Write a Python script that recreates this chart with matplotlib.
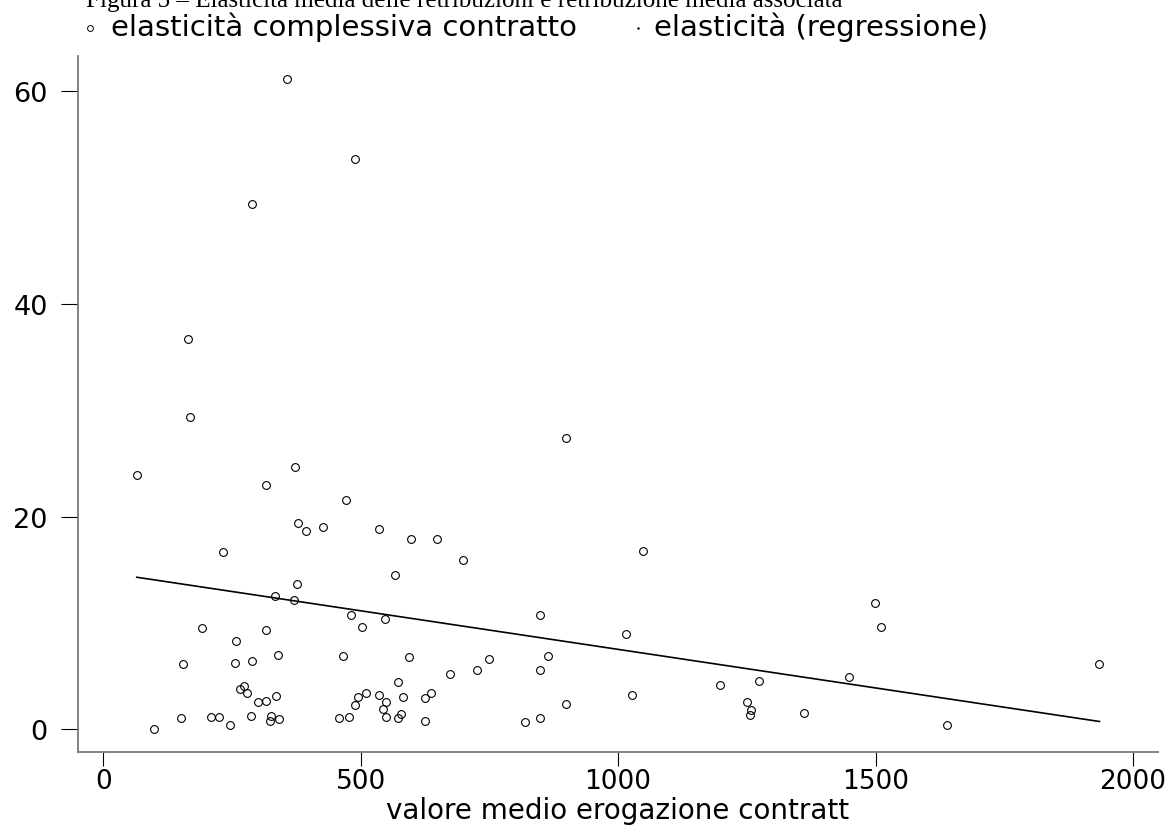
# scatter of contract elasticity vs average payout, with the regression line
import matplotlib
matplotlib.use("Agg")
import matplotlib.pyplot as plt
from matplotlib.lines import Line2D

# values
valore_medio = [356.8, 489.5, 289.5, 164.5, 169.0, 64.8, 373.0, 315.4, 470.8, 378.2,
                393.7, 426.2, 535.5, 598.3, 648.8, 698.7, 231.9, 566.6, 376.9, 334.2,
                369.8, 481.2, 546.6, 501.9, 192.3, 316.6, 257.2, 339.4, 154.8, 255.8,
                288.8, 466.2, 593.8, 672.9, 573.0, 273.9, 265.5, 279.1, 336.1, 299.9,
                315.4, 494.8, 510.9, 488.9, 535.5, 549.8, 544.0, 549.2, 582.8, 573.0,
                577.7, 624.3, 636.6, 624.3, 150.3, 209.8, 225.3, 245.5, 286.3, 326.3,
                323.8, 341.9, 457.3, 477.9, 98.5, 898.8, 1048.4, 848.9, 1015.3, 864.4,
                749.2, 725.3, 848.9, 1197.9, 1273.7, 1026.4, 898.8, 1251.0, 1258.8, 1255.6,
                1360.5, 819.8, 848.9, 1498.4, 1510.0, 1448.0, 1934.8, 1639.0]
elasticita = [61.1, 53.65, 49.4, 36.65, 29.4, 23.9, 24.7, 22.95, 21.6, 19.4,
              18.65, 19.0, 18.8, 17.87, 17.93, 15.9, 16.7, 14.5, 13.7, 12.57,
              12.16, 10.78, 10.35, 9.6, 9.56, 9.34, 8.28, 6.99, 6.11, 6.27,
              6.45, 6.87, 6.8, 5.17, 4.48, 4.1, 3.76, 3.41, 3.13, 2.54,
              2.69, 3.07, 3.41, 2.29, 3.26, 2.6, 1.88, 1.16, 3.07, 1.06,
              1.41, 2.94, 3.39, 0.81, 1.03, 1.19, 1.13, 0.38, 1.22, 1.25,
              0.75, 0.97, 1.09, 1.16, 0.03, 27.43, 16.74, 10.72, 8.94, 6.92,
              6.61, 5.55, 5.61, 4.17, 4.57, 3.2, 2.35, 2.54, 1.79, 1.35,
              1.53, 0.69, 1.06, 11.91, 9.65, 4.92, 6.11, 0.4]

# fitted line, start and end as drawn in the original
reg_x = [65.0, 1935.0]
reg_y = [14.3, 0.74]

x_ticks = [0, 500, 1000, 1500, 2000]
y_ticks = [0, 20, 40, 60]

titolo = "Figura 5 \u2013 Elasticit\u00e0 media delle retribuzioni e retribuzione media associata"
leg_punti = "elasticit\u00e0 complessiva contratto"
leg_retta = "elasticit\u00e0 (regressione)"
x_label = "valore medio erogazione contratt"

W, H = 1169, 829
plt.rcParams['font.family'] = ['DejaVu Sans']

fig = plt.figure(figsize=(W / 100, H / 100), dpi=100)
fig.patch.set_facecolor("white")

# axes box in pixels: left 77.7, right 1158, top 57, bottom 752.7
ax = fig.add_axes([77.7 / W, (H - 752.7) / H, (1158 - 77.7) / W, (752.7 - 57) / H])

ax.plot(valore_medio, elasticita, linestyle="none", marker="o", ms=5.6,
        mfc="none", mec="black", mew=0.8)
ax.plot(reg_x, reg_y, color="black", lw=1.2)

ax.set_xlim(-49.7, 2048.7)
ax.set_ylim(-2.1, 63.3)
ax.set_xticks(x_ticks)
ax.set_yticks(y_ticks)

for side in ["top", "right"]:
    ax.spines[side].set_visible(False)
for side in ["left", "bottom"]:
    ax.spines[side].set_color("#7a7a7a")
    ax.spines[side].set_linewidth(1.3)

ax.tick_params(axis="x", direction="out", length=10, width=0.8, color="black",
               pad=1.5, labelsize=19)
ax.tick_params(axis="y", direction="out", length=12, width=0.8, color="black",
               pad=9.5, labelsize=19.5)

# x label, baseline about 819px from the top
ax.set_xlabel(x_label, fontsize=20, va="baseline")
ax.xaxis.set_label_coords(0.5, -(819 - 752.7) / (752.7 - 57))

# title, cut off at the top edge like in the original
fig.text(86 / W, 1 - 7.5 / H, titolo, family="Liberation Serif", fontsize=18,
         ha="left", va="baseline")

# legend drawn by hand on one row
ly = 1 - 35.5 / H
fig.add_artist(Line2D([90 / W], [1 - 29 / H], transform=fig.transFigure, marker="o",
                      ms=4.2, mfc="none", mec="black", mew=0.7, linestyle="none"))
fig.text(111 / W, ly, leg_punti, fontsize=21, ha="left", va="baseline")
fig.add_artist(Line2D([638 / W], [1 - 29 / H], transform=fig.transFigure, marker=".",
                      ms=1.5, color="black", linestyle="none"))
fig.text(654 / W, ly, leg_retta, fontsize=21, ha="left", va="baseline")

fig.savefig("out.png", dpi=100, facecolor="white")
